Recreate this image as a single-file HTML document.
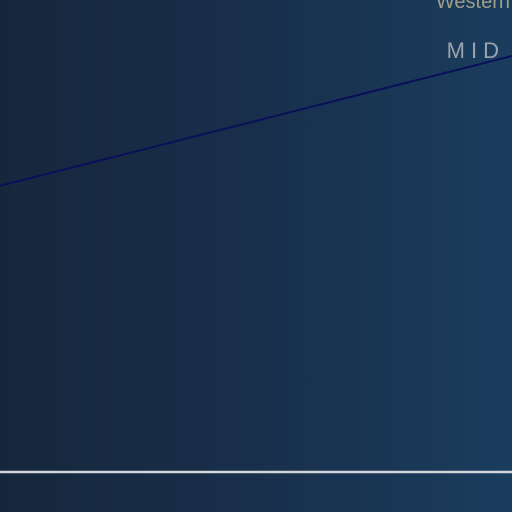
<!DOCTYPE html>
<html><head><meta charset="utf-8"><style>
html,body{margin:0;padding:0}
body{width:512px;height:512px;overflow:hidden;background:linear-gradient(90deg,#16273c 0%,#182f4b 50%,#1a3d5e 100%);font-family:"Liberation Sans",sans-serif;position:relative}
svg{position:absolute;left:0;top:0}
</style></head><body>
<svg width="512" height="512">
  <text x="510" y="8" text-anchor="end" fill="#9f9e86" font-size="20">Western</text>
  <text x="505" y="58" text-anchor="end" fill="#9ba3ad" font-size="22" letter-spacing="6">MID</text>
  <line x1="0" y1="472" x2="512" y2="472" stroke="#d2d6da" stroke-width="2.5"/>
  <g id="series"></g>
</svg>
<script>
const xCats = [0, 1];
const midValues = [68.8, 100];
const xScale = i => i * 512;
const yScale = v => 472 - v * 4.16;
const g = document.getElementById('series');
const pts = xCats.map((c, i) => xScale(c) + ',' + yScale(midValues[i])).join(' ');
const pl = document.createElementNS('http://www.w3.org/2000/svg', 'polyline');
pl.setAttribute('points', pts);
pl.setAttribute('fill', 'none');
pl.setAttribute('stroke', '#0a0f5a');
pl.setAttribute('stroke-width', '2');


g.appendChild(pl);
</script>
</body></html>
